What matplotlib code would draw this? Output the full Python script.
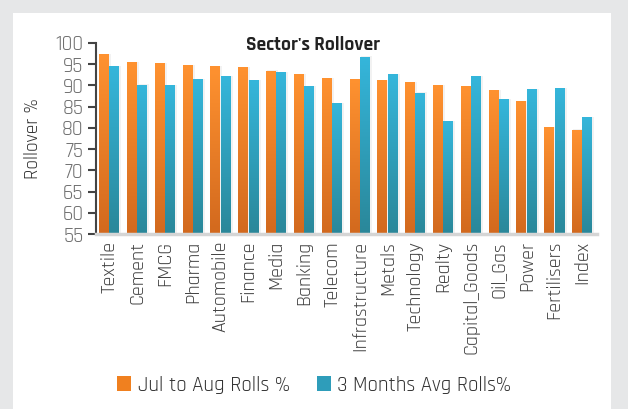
import matplotlib
matplotlib.use("Agg")
import matplotlib.pyplot as plt
import numpy as np
from matplotlib.colors import LinearSegmentedColormap
from matplotlib.patches import Rectangle, Patch

categories = ["Textile", "Cement", "FMCG", "Pharma", "Automobile", "Finance", "Media",
              "Banking", "Telecom", "Infrastructure", "Metals", "Technology", "Realty",
              "Capital_Goods", "Oil_Gas", "Power", "Fertilisers", "Index"]
jul_aug = [97.2, 95.3, 95.1, 94.6, 94.4, 94.2, 93.4, 92.5, 91.6, 91.3, 91.1, 90.6,
           89.9, 89.7, 88.7, 86.1, 80.0, 79.5]
three_month = [94.4, 90.1, 89.9, 91.3, 92.0, 91.1, 93.0, 89.7, 85.7, 96.7, 92.5, 88.2,
               81.4, 92.0, 86.6, 89.0, 89.2, 82.4]
yticks = [55, 60, 65, 70, 75, 80, 85, 90, 95, 100]
series_names = ["Jul to Aug Rolls %", "3 Months Avg Rolls%"]

plt.rcParams['font.family'] = ['Rajdhani', 'DejaVu Sans']

fig = plt.figure(figsize=(6.28, 4.09), dpi=100)
fig.patch.set_facecolor("#E6E7E8")
fig.add_artist(Rectangle((13/628, 0), (611-13)/628, (409-13)/409, transform=fig.transFigure,
                         facecolor="white", edgecolor="none", zorder=0))

ax = fig.add_axes([96/628, (409-234)/409, (597-96)/628, (234-43)/409])
ax.set_facecolor("none")

cmap_o = LinearSegmentedColormap.from_list("o", ["#D2691E", "#FF9230"])
cmap_b = LinearSegmentedColormap.from_list("b", ["#2A8799", "#35B6DB"])
grad = np.linspace(0, 1, 256).reshape(-1, 1)

x = np.arange(len(categories))
w = 0.34
gap = 0.03
ymin = 55
for xs, vals, cm in [(x - w/2 - gap/2, jul_aug, cmap_o), (x + w/2 + gap/2, three_month, cmap_b)]:
    for xi, v in zip(xs, vals):
        ax.add_patch(Rectangle((xi - w/2 + 0.05, ymin), w + 0.04, v - ymin + 0.2, facecolor="#000000",
                               alpha=0.05, edgecolor="none", zorder=1))
        ax.imshow(grad, extent=(xi - w/2, xi + w/2, ymin, v), origin="lower", cmap=cm,
                  aspect="auto", zorder=2, interpolation="bilinear")

ax.set_xlim(-0.47, len(categories) - 0.46)
ax.set_ylim(55, 100)
ax.set_yticks(yticks)
ax.set_yticklabels([str(t) for t in yticks], fontsize=15, color="#707070")
ax.set_xticks(x)
ax.set_xticklabels(categories, rotation=90, fontsize=14.5, color="#444444")
ax.tick_params(axis='x', length=0, pad=5)
ax.tick_params(axis='y', length=6, width=1.5, color="#444444", pad=3)
for s in ["top", "right"]:
    ax.spines[s].set_visible(False)
ax.spines["left"].set_color("#444444")
ax.spines["left"].set_linewidth(1.5)
ax.spines["bottom"].set_color("#D5D5D5")
ax.spines["bottom"].set_linewidth(2.5)
ax.set_ylabel("Rollover %", fontsize=14, color="#333333", labelpad=10)

fig.text(313/628, 1 - 44/409, "Sector's Rollover", ha="center", va="center",
         fontsize=14, fontweight="bold", color="#222222")

handles = [Patch(facecolor="#F0801F"), Patch(facecolor="#2E9DBA")]
fig.legend(handles, series_names, loc="center", bbox_to_anchor=(314/628, 1 - 385/409),
           ncol=2, frameon=False, fontsize=15, handlelength=0.7, handleheight=0.7,
           handletextpad=0.3, columnspacing=1.3, labelcolor="#333333")

fig.savefig("out.png", dpi=100, facecolor=fig.get_facecolor())
